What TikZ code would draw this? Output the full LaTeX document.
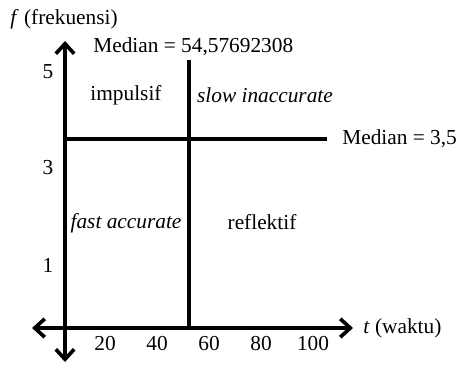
\documentclass[tikz,border=0pt]{standalone}
\usepackage{fontspec}
\setmainfont{Liberation Serif}
\usepackage{tikz}
\usetikzlibrary{positioning,arrows.meta}

\begin{document}
\begin{tikzpicture}[x=0.6pt, y=-0.6pt, font=\fontsize{12.8}{15}\selectfont,
    >={Straight Barb[length=6pt,width=11pt,line width=2.2pt]},
    axisline/.style={line width=2.4pt},
    medline/.style={line width=2.2pt},
    lbl/.style={inner sep=0pt}]
      \useasboundingbox (0,0) rectangle (459,365);
      % Axes
      \coordinate (origin) at (65,328);
      \coordinate (ytop) at (65,41);
      \coordinate (ybot) at (65,362);
      \coordinate (xleft) at (32,328);
      \coordinate (xright) at (353,328);
      \draw [<->, axisline] (ybot) -- (ytop);
      \draw [<->, axisline] (xleft) -- (xright);

      % Median lines
      \coordinate (medtTop) at (189,60);
      \coordinate (medtBot) at (189,328);
      \coordinate (medfLeft) at (65,139);
      \coordinate (medfRight) at (327,139);
      \draw [medline] (medtTop) -- (medtBot);
      \draw [medline] (medfLeft) -- (medfRight);

      % Axis labels
      \node [lbl, anchor=west] (ylabel) at (10,19) {\textit{f} (frekuensi)};
      \node [lbl, anchor=west, right=6pt of xright] (xlabel) {\textit{t} (waktu)};
      \node [lbl, anchor=west] (medt) at (93,47) {Median = 54,57692308};
      \node [lbl, right=9pt of medfRight] (medf) {Median = 3,5};

      % Ticks
      \foreach \v/\yy in {5/72, 3/168, 1/265}
        \node [lbl] (ytick\v) at (48,\yy) {\v};
      \foreach \v [count=\i from 0] in {20,40,60,80,100}
        \node [lbl] (xtick\v) at (105+52*\i,344) {\v};

      % Quadrants
      \node (impulsif) at (126,95) {impulsif};
      \node (slowinacc) at (265,95) {\textit{slow inaccurate}};
      \node (fastacc) at (126,223) {\textit{fast accurate}};
      \node (reflektif) at (262,222) {reflektif};
    \end{tikzpicture}
\end{document}
